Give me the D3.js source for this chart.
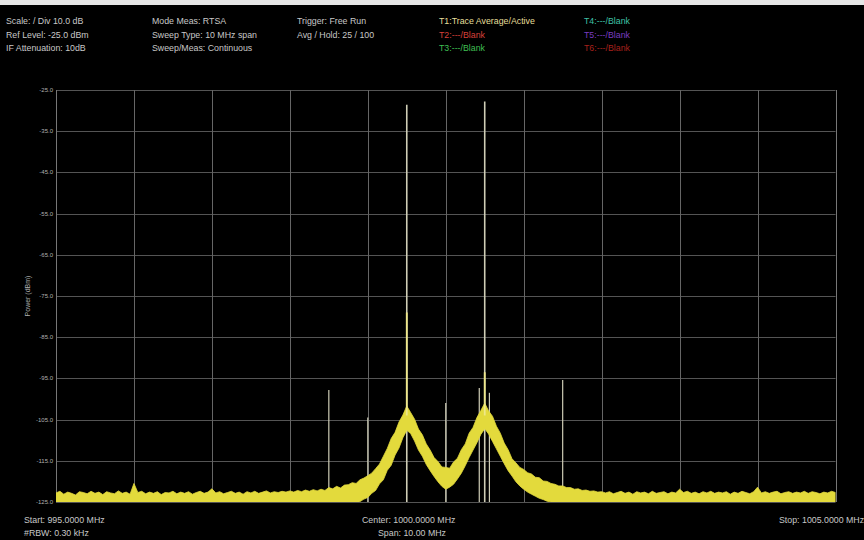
<!DOCTYPE html>
<html><head><meta charset="utf-8">
<script src="https://cdn.jsdelivr.net/npm/d3@7"></script>
<style>body{margin:0;background:#000;}svg{display:block;}text{font-family:"Liberation Sans",Arial,sans-serif;}</style>
</head><body>
<svg id="c" width="864" height="540"></svg>
<script>
// ---- data ----
const startMHz = 995.0, stopMHz = 1005.0;
const yTicks = [-25, -35, -45, -55, -65, -75, -85, -95, -105, -115, -125];
const xGrid = [995, 996, 997, 998, 999, 1000, 1001, 1002, 1003, 1004, 1005];
// upper envelope of averaged trace, 0.05 MHz step from 995.00
const traceStep = 0.05;
const upperTrace = [
-122.8,-122.4,-123.1,-122.6,-122.9,-123.3,-122.5,-122.7,-123.0,-122.4,
-122.9,-122.6,-123.2,-122.5,-122.8,-123.0,-122.3,-122.9,-122.6,-123.1,
-120.5,-122.7,-122.4,-123.0,-122.6,-122.9,-122.5,-123.2,-122.7,-122.8,
-122.4,-123.0,-122.6,-122.9,-122.5,-123.1,-122.7,-122.4,-122.9,-122.6,
-121.8,-122.8,-122.5,-123.0,-122.7,-122.4,-122.9,-122.6,-123.1,-122.5,
-122.8,-122.4,-122.9,-122.6,-122.3,-122.8,-122.5,-122.7,-122.4,-122.6,
-122.3,-122.6,-122.2,-122.5,-122.1,-122.4,-122.0,-122.3,-121.9,-122.2,
-121.5,-121.8,-121.2,-121.6,-120.9,-120.8,-120.3,-120.5,-119.6,-119.2,
-118.6,-118.0,-116.9,-115.8,-113.9,-112.0,-109.6,-108.1,-105.6,-103.9,
-101.7,-103.3,-104.9,-107.3,-108.7,-110.9,-112.4,-114.2,-115.2,-116.5,
-116.6,-116.8,-115.3,-114.4,-112.3,-110.9,-108.3,-106.9,-104.5,-102.8,
-101.0,-102.9,-104.2,-106.6,-108.3,-110.7,-112.3,-114.5,-115.5,-116.6,
-117.1,-117.9,-118.2,-119.0,-119.1,-119.9,-120.0,-120.5,-120.7,-121.1,
-121.1,-121.5,-121.5,-121.9,-121.8,-122.2,-122.1,-122.4,-122.3,-122.6,
-122.5,
-122.8,-122.5,-123.0,-122.7,-122.4,-122.9,-122.6,-123.1,-122.5,-122.8,
-122.6,-123.0,-122.4,-122.9,-122.7,-122.5,-123.0,-122.6,-122.8,-121.9,
-122.7,-122.4,-122.9,-122.6,-123.0,-122.5,-122.8,-122.4,-122.9,-122.6,
-122.8,-122.5,-123.1,-122.6,-122.9,-122.4,-122.7,-123.0,-122.5,-121.4,
-122.8,-122.5,-122.9,-122.6,-122.4,-123.0,-122.7,-122.5,-122.9,-122.6,
-122.8,-122.4,-122.9,-122.5,-122.7,-123.0,-122.6,-122.8,-122.4,-122.7
];
// lower envelope, same 0.05 MHz grid
const lowerTrace = [
-125.5,-125.5,-125.5,-125.5,-125.5,-125.5,-125.5,-125.5,-125.5,-125.5,
-125.5,-125.5,-125.5,-125.5,-125.5,-125.5,-125.5,-125.5,-125.5,-125.5,
-125.5,-125.5,-125.5,-125.5,-125.5,-125.5,-125.5,-125.5,-125.5,-125.5,
-125.5,-125.5,-125.5,-125.5,-125.5,-125.5,-125.5,-125.5,-125.5,-125.5,
-125.5,-125.5,-125.5,-125.5,-125.5,-125.5,-125.5,-125.5,-125.5,-125.5,
-125.5,-125.5,-125.5,-125.5,-125.5,-125.5,-125.5,-125.5,-125.5,-125.5,
-125.5,-125.5,-125.5,-125.5,-125.5,-125.5,-125.5,-125.5,-125.5,-125.5,
-125.5,-125.5,-125.5,-125.5,-125.5,-125.5,-125.5,-125.3,-124.9,-124.3,
-123.9,-122.9,-122.2,-120.6,-119.6,-117.3,-116.1,-113.6,-111.9,-109.4,
-107.6,-108.4,-110.2,-112.4,-113.9,-115.9,-117.4,-118.8,-120.1,-121.2,
-121.9,-121.4,-120.7,-119.4,-118.0,-116.2,-114.2,-112.4,-110.6,-108.6,
-107.2,-108.5,-110.3,-112.1,-113.9,-115.7,-117.4,-118.7,-120.1,-121.1,
-121.9,-122.6,-123.1,-123.6,-124.1,-124.4,-124.8,-125.0,-125.3,-125.5,
-125.5,-125.5,-125.5,-125.5,-125.5,-125.5,-125.5,-125.5,-125.5,-125.5,
-125.5,
-125.5,-125.5,-125.5,-125.5,-125.5,-125.5,-125.5,-125.5,-125.5,-125.5,
-125.5,-125.5,-125.5,-125.5,-125.5,-125.5,-125.5,-125.5,-125.5,-125.5,
-125.5,-125.5,-125.5,-125.5,-125.5,-125.5,-125.5,-125.5,-125.5,-125.5,
-125.5,-125.5,-125.5,-125.5,-125.5,-125.5,-125.5,-125.5,-125.5,-125.5,
-125.5,-125.5,-125.5,-125.5,-125.5,-125.5,-125.5,-125.5,-125.5,-125.5,
-125.5,-125.5,-125.5,-125.5,-125.5,-125.5,-125.5,-125.5,-125.5,-125.5
];
// discrete spurs / carriers
const spurFreq   = [998.5, 999.0, 999.5, 1000.0, 1000.43, 1000.5, 1000.56, 1001.5];
const spurTop    = [-97.8, -104.5, -28.6, -101.0, -97.3, -27.8, -98.5, -95.4];
const spurBright = [null, null, -79.0, null, null, -93.5, null, null];

const headerLeft = ["Scale: / Div 10.0 dB", "Ref Level: -25.0 dBm", "IF Attenuation: 10dB"];
const headerMid = ["Mode Meas: RTSA", "Sweep Type: 10 MHz span", "Sweep/Meas: Continuous"];
const headerTrig = ["Trigger: Free Run", "Avg / Hold: 25 / 100"];
const traceLabels1 = ["T1:Trace Average/Active", "T2:---/Blank", "T3:---/Blank"];
const traceColors1 = ["#e6df9a", "#d8403a", "#3fbf52"];
const traceLabels2 = ["T4:---/Blank", "T5:---/Blank", "T6:---/Blank"];
const traceColors2 = ["#3fc0a6", "#7a3cc0", "#a8201c"];

// ---- drawing ----
const svg = d3.select("#c");
svg.append("rect").attr("width", 864).attr("height", 540).attr("fill", "#000");
svg.append("rect").attr("width", 864).attr("height", 5).attr("fill", "#e6e6e6");

const L = 56, R = 835.5, T = 90, B = 502;
const x = d3.scaleLinear().domain([startMHz, stopMHz]).range([L, R]);
const y = d3.scaleLinear().domain([-125, -25]).range([B, T]);

svg.append("defs").append("clipPath").attr("id", "pc")
  .append("rect").attr("x", L).attr("y", T).attr("width", R - L).attr("height", B - T);

const grid = svg.append("g");
grid.selectAll("line.h").data(yTicks).join("line")
  .attr("x1", L).attr("x2", R).attr("y1", d => Math.round(y(d)) + 0.5).attr("y2", d => Math.round(y(d)) + 0.5)
  .attr("stroke", "#545454").attr("stroke-width", 1);
grid.selectAll("line.v").data(xGrid).join("line")
  .attr("y1", T).attr("y2", B).attr("x1", d => Math.round(x(d)) + 0.5).attr("x2", d => Math.round(x(d)) + 0.5)
  .attr("stroke", d => (d === startMHz || d === stopMHz) ? "#777" : "#666").attr("stroke-width", 1);

// y tick labels
svg.append("g").selectAll("text").data(yTicks).join("text")
  .attr("x", 53).attr("y", d => y(d) + 2).attr("text-anchor", "end")
  .attr("font-size", 6).attr("fill", "#b0b0b0").text(d => d.toFixed(1));
svg.append("text").attr("transform", "translate(30,296) rotate(-90)")
  .attr("text-anchor", "middle").attr("font-size", 7).attr("fill", "#b0b0b0").text("Power (dBm)");

const plot = svg.append("g").attr("clip-path", "url(#pc)");

// spurs (pale lines)
plot.selectAll("line.spur").data(spurFreq).join("line")
  .attr("x1", d => x(d)).attr("x2", d => x(d))
  .attr("y1", y(-125)).attr("y2", (d, i) => y(spurTop[i]))
  .attr("stroke", "#cfcdb6").attr("stroke-width", (d, i) => spurTop[i] > -60 ? 1.6 : 1.2);

// trace band
const upPts = upperTrace.map((v, i) => [x(startMHz + i * traceStep), y(v)]);
const loPts = lowerTrace.map((v, i) => [x(startMHz + i * traceStep), y(v)]).reverse();
plot.append("path").attr("d", d3.line()(upPts.concat(loPts)) + "Z")
  .attr("fill", "#e3da3c").attr("stroke", "#e3da3c").attr("stroke-width", 0.8);

// bright parts of carriers
plot.selectAll("line.bright").data(spurFreq.filter((d, i) => spurBright[i] !== null)).join("line")
  .attr("x1", d => x(d)).attr("x2", d => x(d))
  .attr("y1", d => y(-104))
  .attr("y2", d => y(spurBright[spurFreq.indexOf(d)]))
  .attr("stroke", "#eee78a").attr("stroke-width", 1.8);

// header text
const hdr = svg.append("g").attr("font-size", 8.8);
const rowsY = [24, 38, 51];
hdr.selectAll("text.a").data(headerLeft).join("text").attr("x", 6).attr("y", (d, i) => rowsY[i]).attr("fill", "#c8c8c8").text(d => d);
hdr.selectAll("text.b").data(headerMid).join("text").attr("x", 152).attr("y", (d, i) => rowsY[i]).attr("fill", "#c8c8c8").text(d => d);
hdr.selectAll("text.c").data(headerTrig).join("text").attr("x", 297).attr("y", (d, i) => rowsY[i]).attr("fill", "#c8c8c8").text(d => d);
hdr.selectAll("text.d").data(traceLabels1).join("text").attr("x", 439).attr("y", (d, i) => rowsY[i]).attr("fill", (d, i) => traceColors1[i]).text(d => d);
hdr.selectAll("text.e").data(traceLabels2).join("text").attr("x", 584).attr("y", (d, i) => rowsY[i]).attr("fill", (d, i) => traceColors2[i]).text(d => d);

// footer text
const ft = svg.append("g").attr("font-size", 8.8).attr("fill", "#c8c8c8");
ft.append("text").attr("x", 24).attr("y", 523).text("Start: " + startMHz.toFixed(4) + " MHz");
ft.append("text").attr("x", 24).attr("y", 536).text("#RBW: 0.30 kHz");
ft.append("text").attr("x", 362).attr("y", 523).text("Center: " + ((startMHz + stopMHz) / 2).toFixed(4) + " MHz");
ft.append("text").attr("x", 378).attr("y", 536).text("Span: " + (stopMHz - startMHz).toFixed(2) + " MHz");
ft.append("text").attr("x", 779).attr("y", 523).text("Stop: " + stopMHz.toFixed(4) + " MHz");
</script>
</body></html>
